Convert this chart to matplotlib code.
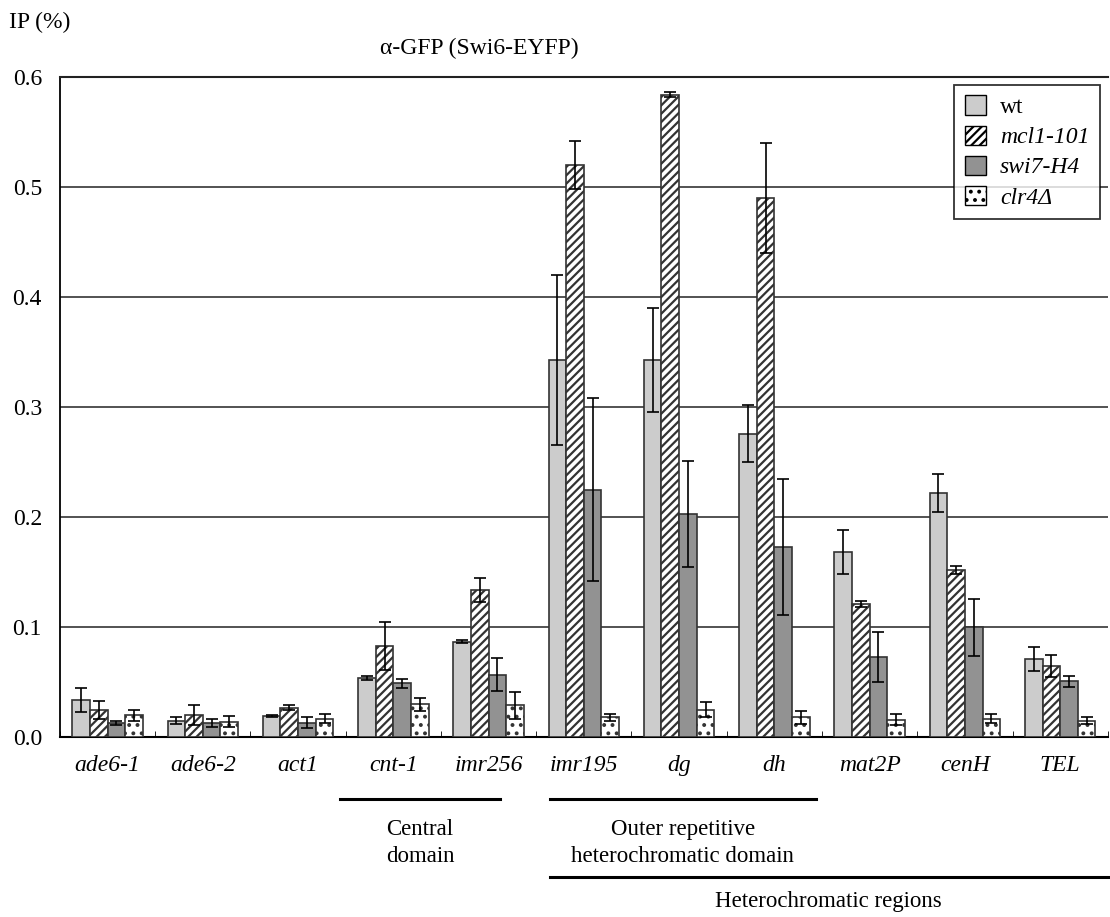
import numpy as np
import matplotlib
matplotlib.use("Agg")
import matplotlib.pyplot as plt
import matplotlib.transforms as mtransforms
from matplotlib.patches import Patch

plt.rcParams['font.family'] = ['Liberation Serif', 'DejaVu Serif']
plt.rcParams['hatch.linewidth'] = 1.6

loci = ["ade6-1", "ade6-2", "act1", "cnt-1", "imr256", "imr195",
        "dg", "dh", "mat2P", "cenH", "TEL"]
strains = ["wt", "mcl1-101", "swi7-H4", "clr4\u0394"]

wt = [0.034, 0.015, 0.019, 0.054, 0.087, 0.343, 0.343, 0.276, 0.168, 0.222, 0.071]
wt_err = [0.011, 0.003, 0.001, 0.002, 0.001, 0.077, 0.047, 0.026, 0.020, 0.017, 0.011]
mcl1 = [0.025, 0.020, 0.027, 0.083, 0.134, 0.520, 0.584, 0.490, 0.121, 0.152, 0.065]
mcl1_err = [0.008, 0.009, 0.002, 0.022, 0.011, 0.022, 0.002, 0.050, 0.003, 0.004, 0.010]
swi7 = [0.013, 0.013, 0.013, 0.049, 0.057, 0.225, 0.203, 0.173, 0.073, 0.100, 0.051]
swi7_err = [0.002, 0.004, 0.005, 0.004, 0.015, 0.083, 0.048, 0.062, 0.023, 0.026, 0.005]
clr4 = [0.020, 0.014, 0.017, 0.030, 0.029, 0.018, 0.025, 0.018, 0.016, 0.017, 0.015]
clr4_err = [0.005, 0.005, 0.004, 0.006, 0.012, 0.003, 0.007, 0.006, 0.005, 0.004, 0.003]

yticks = [0.0, 0.1, 0.2, 0.3, 0.4, 0.5, 0.6]

series = [(wt, wt_err), (mcl1, mcl1_err), (swi7, swi7_err), (clr4, clr4_err)]
faces = ["#cccccc", "white", "#929292", "white"]
hatches = [None, "////", None, ".."]

fig = plt.figure(figsize=(11.1, 9.17), dpi=100)
ax = fig.add_axes([0.054, 0.196, 0.944, 0.72])

x = np.arange(len(loci))
w = 0.185
for k, ((vals, errs), fc, h) in enumerate(zip(series, faces, hatches)):
    pos = x + (k - 1.5) * w
    ax.bar(pos, vals, w, color=fc, edgecolor="#333333", linewidth=1.2,
           hatch=h, zorder=3)
    ax.errorbar(pos, vals, yerr=errs, fmt="none", ecolor="black",
                elinewidth=1.2, capsize=4.5, capthick=1.2, zorder=4)

ax.set_xlim(-0.5, len(loci) - 0.5)
ax.set_ylim(0, 0.6)
ax.set_yticks(yticks)
ax.set_yticklabels([f"{v:.1f}" for v in yticks], fontsize=17)
ax.tick_params(axis="y", length=0, pad=13)
ax.set_xticks(x)
ax.set_xticklabels(loci, fontsize=17, style="italic")
ax.tick_params(axis="x", length=0, pad=13)
ax.set_xticks(np.arange(len(loci) + 1) - 0.5, minor=True)
ax.tick_params(axis="x", which="minor", direction="in", length=4)

for y in yticks[1:]:
    ax.axhline(y, color="#444444", linewidth=1.3, zorder=1)
ax.spines["right"].set_visible(False)
ax.spines["top"].set_color("#222222")
ax.spines["top"].set_linewidth(1.5)
ax.spines["left"].set_linewidth(1.3)
ax.spines["bottom"].set_linewidth(1.5)

handles = [Patch(facecolor=fc, edgecolor="black", hatch=h, label=s)
           for fc, h, s in zip(faces, hatches, strains)]
leg = ax.legend(handles=handles, loc="upper right", bbox_to_anchor=(1.004, 1.006),
                fontsize=17, frameon=True, fancybox=False, edgecolor="black",
                handlelength=0.9, handleheight=0.9, handletextpad=0.6,
                borderpad=0.45, labelspacing=0.3)
leg.get_frame().set_linewidth(1.3)
for t in leg.get_texts()[1:]:
    t.set_style("italic")

fig.text(0.008, 0.975, "IP (%)", fontsize=17, va="center", ha="left")
fig.text(0.432, 0.947, "\u03b1-GFP (Swi6-EYFP)", fontsize=17, va="center", ha="center")

# group brackets under the locus names
tr = mtransforms.blended_transform_factory(ax.transData, fig.transFigure)
brackets = [(2.44, 4.12, 0.129, "Central\ndomain", 0.081),
            (4.64, 7.44, 0.129, "Outer repetitive\nheterochromatic domain", 0.081),
            (4.64, 10.5, 0.044, "Heterochromatic regions", 0.017)]
for x0, x1, yl, label, yt in brackets:
    ax.plot([x0, x1], [yl, yl], color="black", linewidth=2.2,
            transform=tr, clip_on=False)
    fig.text(0, yt, label, fontsize=16.5, ha="center", va="center",
             linespacing=1.4, transform=tr).set_x((x0 + x1) / 2)

fig.savefig("out.png", dpi=100)
